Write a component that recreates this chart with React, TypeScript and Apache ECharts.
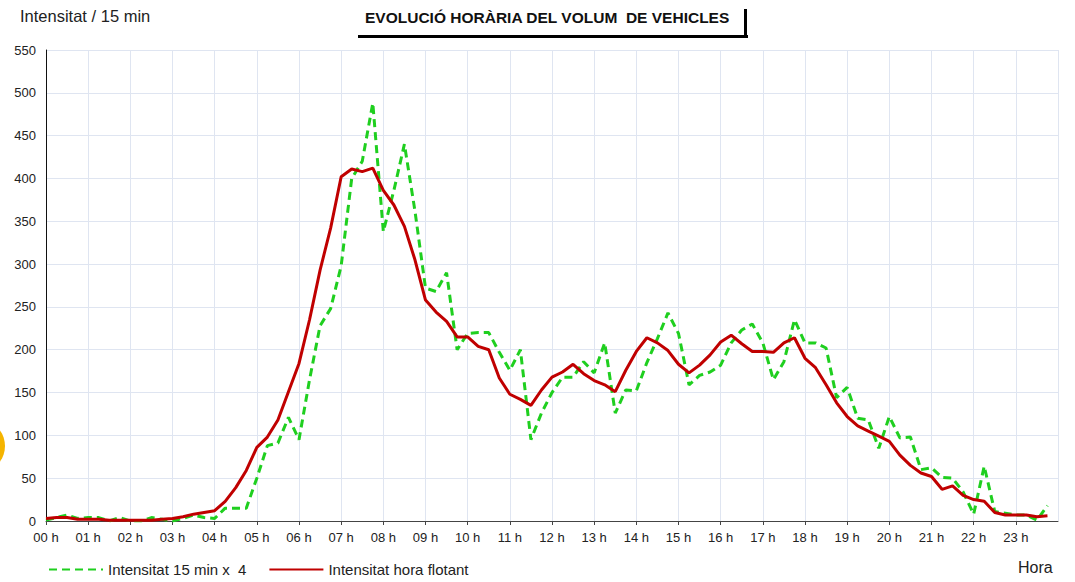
import React, { useEffect, useRef } from "react";
import * as echarts from "echarts";

const hourLabels: string[] = [
  "00 h", "01 h", "02 h", "03 h", "04 h", "05 h", "06 h", "07 h", "08 h", "09 h", "10 h", "11 h",
  "12 h", "13 h", "14 h", "15 h", "16 h", "17 h", "18 h", "19 h", "20 h", "21 h", "22 h", "23 h",
];

// 15-minute intensity x 4 (one value per quarter hour, 00:00 .. 23:45)
const intensity15: number[] = [
  1, 4, 7, 3, 4, 4, 0, 4, 0, 0, 4, 2, 0, 3, 7, 4,
  3, 15, 15, 15, 50, 88, 91, 121, 95, 165, 228, 248, 298, 400, 420, 488,
  338, 386, 440, 362, 272, 268, 290, 200, 219, 220, 220, 197, 176, 200, 95, 126,
  150, 168, 168, 186, 173, 208, 126, 153, 152, 185, 213, 243, 219, 159, 170, 174,
  182, 208, 223, 230, 208, 165, 186, 235, 208, 208, 202, 144, 156, 120, 118, 85,
  122, 97, 98, 60, 62, 51, 50, 34, 8, 64, 11, 9, 7, 7, 1, 18,
];

// floating hourly intensity
const intensityHour: number[] = [
  3, 4, 4, 2, 2, 2, 1, 1, 1, 1, 1, 2, 3, 5, 8, 10,
  12, 23, 39, 59, 86, 98, 118, 151, 184, 235, 293, 342, 402, 411, 408, 412,
  386, 369, 344, 305, 258, 244, 233, 215, 215, 204, 200, 167, 148, 142, 135, 153,
  168, 174, 183, 172, 164, 159, 151, 176, 198, 214, 208, 199, 183, 173, 182, 194,
  209, 217, 207, 198, 198, 197, 208, 214, 190, 179, 159, 138, 122, 111, 105, 99,
  93, 77, 65, 56, 52, 37, 41, 30, 25, 23, 10, 7, 7, 7, 5, 6,
];

const seriesNames: string[] = ["Intensitat 15 min x  4", "Intensitat hora flotant"];

export default function App() {
  const ref = useRef<HTMLDivElement>(null);

  useEffect(() => {
    document.body.style.margin = "0";
    if (!ref.current) return;
    const chart = echarts.init(ref.current, undefined, { renderer: "svg" });
    const font = "'Liberation Sans', Arial, sans-serif";
    const toPoints = (arr: number[]) => arr.map((v, i) => [i / 4, v]);

    chart.setOption({
      animation: false,
      backgroundColor: "#ffffff",
      textStyle: { fontFamily: font },
      grid: { left: 46, right: 17, top: 50, bottom: 61, containLabel: false },
      xAxis: {
        type: "value",
        min: 0,
        max: 24,
        interval: 1,
        axisLine: { show: true, lineStyle: { color: "#444", width: 1 } },
        axisTick: { show: true, length: 4, lineStyle: { color: "#444" } },
        axisLabel: {
          color: "#222",
          fontSize: 13,
          fontFamily: font,
          margin: 10,
          showMaxLabel: false,
          formatter: (v: number) => (v >= 0 && v < 24 ? hourLabels[Math.round(v)] : ""),
        },
        splitLine: { show: true, lineStyle: { color: "#dfe5f1", width: 1 } },
      },
      yAxis: {
        type: "value",
        min: 0,
        max: 550,
        interval: 50,
        axisLine: { show: true, lineStyle: { color: "#111", width: 1 } },
        axisTick: { show: false },
        axisLabel: { color: "#222", fontSize: 13, fontFamily: font, margin: 10 },
        splitLine: { show: true, lineStyle: { color: "#dfe5f1", width: 1 } },
      },
      legend: {
        left: 48,
        top: 562,
        padding: 0,
        itemWidth: 54,
        itemHeight: 12,
        itemGap: 22,
        itemStyle: { opacity: 0 },
        textStyle: { color: "#222", fontSize: 15, fontFamily: font },
        data: seriesNames,
      },
      series: [
        {
          name: seriesNames[0],
          type: "line",
          data: toPoints(intensity15),
          showSymbol: false,
          symbol: "none",
          lineStyle: { color: "#1fcf1f", width: 3, type: [8, 5] },
          itemStyle: { color: "#1fcf1f" },
          z: 2,
        },
        {
          name: seriesNames[1],
          type: "line",
          data: toPoints(intensityHour),
          showSymbol: false,
          symbol: "none",
          lineStyle: { color: "#c00000", width: 3 },
          itemStyle: { color: "#c00000" },
          z: 3,
        },
      ],
      graphic: [
        {
          type: "text",
          left: 20,
          top: 7,
          style: { text: "Intensitat / 15 min", fill: "#222", font: `16.5px ${font}` },
        },
        {
          type: "text",
          left: 365,
          top: 9,
          style: {
            text: "EVOLUCIÓ HORÀRIA DEL VOLUM  DE VEHICLES",
            fill: "#111",
            font: `bold 15.5px ${font}`,
          },
        },
        { type: "rect", shape: { x: 358, y: 35, width: 390, height: 3 }, style: { fill: "#000" } },
        { type: "rect", shape: { x: 744, y: 9, width: 3, height: 29 }, style: { fill: "#000" } },
        {
          type: "text",
          left: 1018,
          top: 559,
          style: { text: "Hora", fill: "#222", font: `16px ${font}` },
        },
        {
          type: "ellipse",
          shape: { cx: -12, cy: 446, rx: 17, ry: 22 },
          style: { fill: "#f5b400" },
        },
      ],
    });

    return () => chart.dispose();
  }, []);

  return <div ref={ref} style={{ width: 1075, height: 582 }} />;
}
